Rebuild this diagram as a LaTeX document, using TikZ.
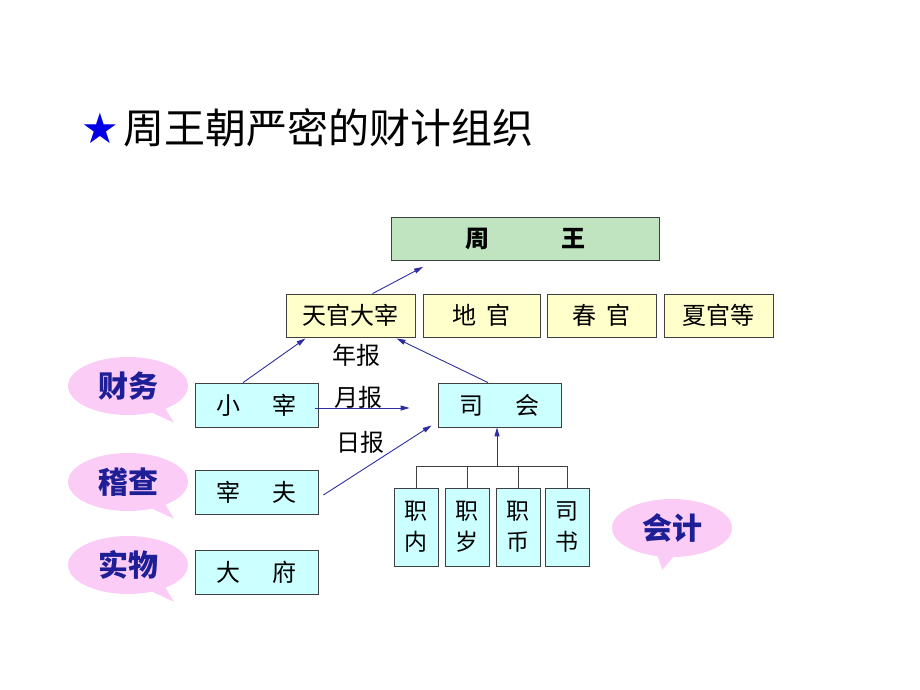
\documentclass[tikz,border=0pt]{standalone}
\usepackage{fontspec}
\setmainfont{Noto Sans CJK SC}
\newfontfamily\symfont{DejaVu Sans}
\usepackage{xcolor}
\usepackage{tikz}
\usetikzlibrary{arrows.meta,shapes.callouts}

\definecolor{wanggreen}{RGB}{192,228,192}
\definecolor{guanyellow}{RGB}{255,255,204}
\definecolor{licyan}{RGB}{204,255,255}
\definecolor{notepink}{RGB}{250,204,246}
\definecolor{noteblue}{RGB}{30,30,150}
\definecolor{arrowblue}{RGB}{46,46,160}
\definecolor{starblue}{RGB}{0,0,230}

\tikzset{
  box/.style={draw=black!75, line width=0.8pt, inner sep=0pt, font=\fontsize{24}{28}\selectfont},
  guan/.style={box, fill=guanyellow, minimum height=43pt},
  li/.style={box, fill=licyan, minimum width=123pt, minimum height=44pt},
  zhi/.style={box, fill=licyan, minimum width=44pt, minimum height=78pt, align=center, font=\fontsize{23}{31}\selectfont},
  note/.style={ellipse callout, fill=notepink, minimum width=120pt, minimum height=58pt, inner sep=0pt, text=noteblue, font=\bfseries\fontsize{30}{34}\selectfont},
  arr/.style={draw=arrowblue, line width=0.9pt, -{Triangle[length=9pt,width=5pt]}},
  bar/.style={draw=black!75, line width=0.8pt},
  lab/.style={font=\fontsize{24}{28}\selectfont}
}

\begin{document}
\begin{tikzpicture}[x=1pt,y=-1pt]
\useasboundingbox (0,0) rectangle (920,690);

\node[text=starblue, font=\symfont\fontsize{42}{42}\selectfont] (star) at (100,128) {★};
\node[anchor=west, font=\fontsize{41}{46}\selectfont] (title) at (120,128) {周王朝严密的财计组织};

\node[box, fill=wanggreen, minimum width=268pt, minimum height=43pt, font=\bfseries\fontsize{24}{28}\selectfont] (zw) at (525,239) {周\hspace{3em}王};

\node[guan, minimum width=129pt] (tg) at (350.5,315.5) {天官大宰};
\node[guan, minimum width=117pt] (dg) at (481.5,315.5) {地\hspace{0.4em}官};
\node[guan, minimum width=109pt] (cg) at (601.5,315.5) {春\hspace{0.4em}官};
\node[guan, minimum width=109pt] (xg) at (718.5,315.5) {夏官等};

\node[li] (xz) at (256.5,405) {小\hspace{1.3em}宰};
\node[li] (sh) at (499.5,405) {司\hspace{1.3em}会};
\node[li] (zf) at (256.5,492) {宰\hspace{1.3em}夫};
\node[li] (df) at (256.5,572) {大\hspace{1.3em}府};

\node[zhi] (zn) at (416,527) {职\\内};
\node[zhi] (zs) at (467,527) {职\\岁};
\node[zhi] (zb) at (518,527) {职\\币};
\node[zhi] (sb) at (567,527) {司\\书};

\coordinate (jz) at (497,466);
\draw[bar] (zn.north) |- (sb.north |- jz) -- (sb.north);
\draw[bar] (zs.north) -- (zs.north |- jz);
\draw[bar] (zb.north) -- (zb.north |- jz);
\draw[arr] (jz) -- (sh.south -| jz);

\draw[arr] ([xshift=22pt]tg.north) -- ([xshift=-102pt,yshift=-6pt]zw.south);
\draw[arr] ([xshift=-13.5pt]xz.north) -- ([xshift=-45pt,yshift=-1pt]tg.south);
\draw[arr] ([xshift=-11.5pt]sh.north) -- ([xshift=46pt,yshift=-1pt]tg.south);
\draw[arr] ([xshift=-3pt,yshift=-3pt]xz.east) -- ([xshift=-28pt,yshift=-3pt]sh.west);
\draw[arr] ([xshift=5pt,yshift=-3pt]zf.east) -- ([xshift=-6pt,yshift=2pt]sh.south west);

\node[lab] (nb) at (356,355) {年报};
\node[lab] (yb) at (358,397) {月报};
\node[lab] (rb) at (360,442) {日报};

\node[note, callout relative pointer={(15pt,-12pt)}] (cw) at (128,386) {财务};
\node[note, callout relative pointer={(15pt,-12pt)}] (jc) at (128,482) {稽查};
\node[note, callout relative pointer={(15pt,-12pt)}] (sw) at (128,565) {实物};
\node[note, callout relative pointer={(-3pt,-13pt)}] (kj) at (672,528) {会计};
\end{tikzpicture}
\end{document}
